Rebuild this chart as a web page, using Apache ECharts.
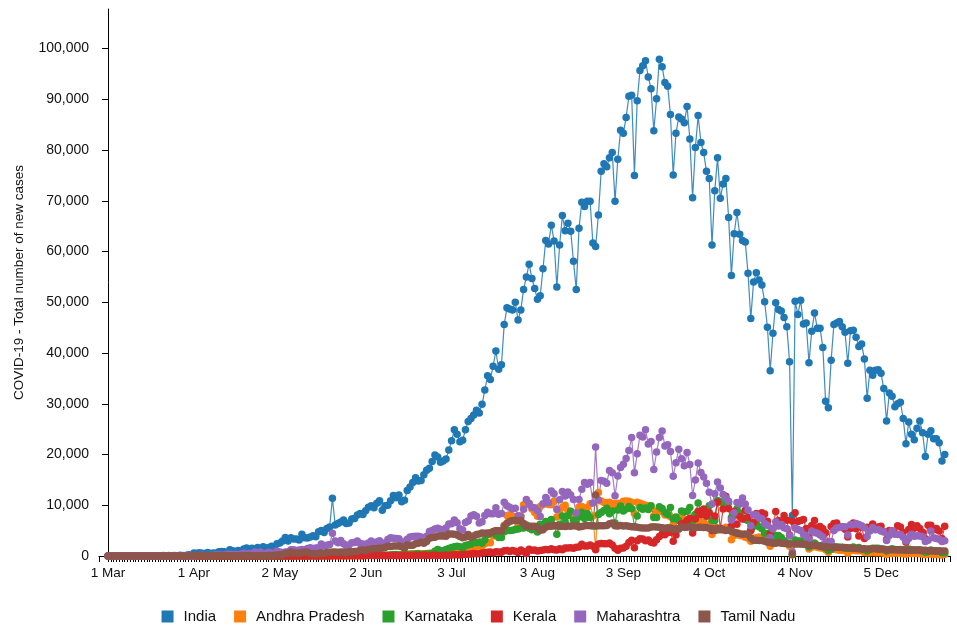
<!DOCTYPE html>
<html>
<head>
<meta charset="utf-8">
<title>COVID-19 new cases</title>
<script src="https://cdn.jsdelivr.net/npm/echarts@6/dist/echarts.min.js"></script>
<style>
  html, body { margin: 0; padding: 0; background: #fff; }
  #chart { width: 957px; height: 633px; }
</style>
</head>
<body>
<div id="chart"></div>
<script>
// daily new cases, 1 Mar 2020 .. 28 Dec 2020 (one row per month)
var india = [
  0,2,1,22,2,1,3,5,9,15,8,10,9,26,11,15,28,14,38,50,86,66,103,37,121,70,160,100,112,227,146,
  601,545,624,524,516,708,484,573,565,813,871,854,758,1243,1031,886,1061,922,1371,1580,1239,1537,1292,1667,1408,1835,1607,1568,1902,1705,
  2396,2564,2952,3656,2971,3602,3344,3339,3175,4311,3592,3562,3726,3991,3808,4794,5049,4628,5400,5720,11400,6100,6400,6700,7100,6400,6500,7300,7400,8100,8400,
  8200,8900,9600,9900,9500,10400,10900,9000,9900,10000,10900,11900,11500,12000,10700,11000,12900,13600,14500,15400,14800,14900,16000,16900,17300,18600,19900,19500,18500,18700,
  19100,20900,22700,24900,24000,22500,22800,24900,26500,27100,27800,28700,28200,29900,32700,35500,34800,37400,40400,36800,37700,45600,48900,48700,48500,50000,46500,48500,52500,55000,57500,
  54700,52700,50600,51300,56600,62200,61500,65200,62100,53000,61300,67100,64100,65600,64000,58100,52500,64600,69700,68900,69900,69900,61700,61000,67200,75800,77300,76700,78500,79500,69900,
  78200,83900,83300,86400,90600,90800,75000,89700,95700,96600,97600,94400,92100,83800,90100,97900,96400,93300,92600,87000,75100,83300,86500,86100,85400,88600,82200,70600,80500,86800,
  81500,79500,75800,74400,61300,72000,78500,70500,73300,74400,66700,55300,63500,67700,63400,62200,61900,55700,46800,54000,55800,54400,53400,50100,45100,36500,43900,49900,48600,48300,47000,
  45200,38300,8000,50200,47600,50400,45700,45900,38100,44300,47900,44900,44900,41100,30500,29200,38600,45600,45900,46200,45200,44100,38000,44400,44500,43100,41300,41800,38800,31100,
  36600,35600,36600,36700,36000,33000,26600,32100,31500,29400,30000,30300,27100,22100,26400,24000,22900,25200,26600,24300,19600,24000,24700,23100,23100,22300,18700,20000
];

var andhraPradesh = [
  0,0,0,0,0,0,0,0,0,0,0,1,0,0,0,0,0,0,1,1,1,2,1,1,2,1,3,6,2,17,43,
  67,21,31,26,60,37,24,19,14,15,18,27,19,44,48,30,38,44,44,75,35,56,80,62,61,81,82,73,80,71,
  60,58,67,67,60,56,56,43,54,43,33,38,36,48,57,52,25,42,52,62,45,62,47,66,44,48,54,68,33,98,70,
  105,115,180,141,161,147,199,154,216,136,147,186,222,294,193,351,299,425,376,439,477,443,462,497,553,605,796,813,793,704,
  657,845,837,765,998,1322,1178,1062,1555,1608,1813,1933,1935,1916,2432,2593,2602,3963,5041,4074,4944,6045,7998,8147,7813,7627,6051,7948,10093,10167,10376,
  9276,8555,7822,9747,10128,10328,10171,10080,10820,7665,9024,9597,9996,8943,8732,8012,6780,9652,9742,9393,9544,10276,7895,1500,12500,10830,10526,10548,10603,10004,10368,
  10392,10199,10776,10825,10794,10601,8368,10601,10418,10175,9999,9901,9536,7956,8846,8835,8702,8096,8218,7738,6235,7553,7228,7855,7293,7073,6923,5487,6133,6190,
  6751,6555,6242,5795,4256,5795,5120,5292,5145,5653,5210,3224,4038,4622,4038,3967,3676,3503,2918,3503,3620,3765,3342,3342,2997,1901,2901,3503,2886,2905,2849,
  2618,1916,200,3048,2849,2410,2410,2237,1392,1732,1886,1728,1593,1593,1237,753,1395,1316,1221,1121,1121,1121,545,1085,1121,1031,1031,1031,684,620,
  663,685,643,618,625,523,316,550,478,588,522,479,466,321,491,484,477,470,468,382,248,402,386,302,276,270,174,338
];

var karnataka = [
  0,0,0,0,0,0,0,1,3,0,0,2,0,1,1,1,3,1,2,2,6,6,7,7,10,14,9,16,8,16,13,
  9,14,6,16,12,12,12,6,16,26,8,15,15,11,19,36,44,12,25,18,10,12,9,29,15,13,8,9,12,24,
  11,12,14,20,19,20,12,48,41,53,15,24,26,28,44,54,55,84,99,116,143,138,216,130,93,100,135,115,248,141,299,
  187,388,267,257,515,239,308,161,120,161,204,271,308,176,213,204,317,210,337,416,453,249,322,397,442,445,918,1267,1105,947,
  1272,1502,1694,1839,1925,1843,1498,2062,2228,2313,2798,2627,2738,2496,3176,4169,4537,4537,4120,3648,3649,4764,5030,5007,5072,5199,5324,5536,5503,6128,5483,
  5172,5532,4752,6259,5619,6805,6670,7178,5985,4267,6257,7883,6706,7908,8818,7040,6317,7665,8642,7385,8324,7571,5938,5851,8161,8580,8960,9386,8324,8852,6495,
  9058,9860,8865,9280,9746,9319,5773,7866,9540,9217,9464,9140,9894,7576,7576,9725,9366,8626,8191,9543,7339,7710,6997,8865,8655,8811,9543,6892,8244,10453,
  8856,8793,8191,9886,7051,6974,10947,10704,10517,10913,10517,7606,8191,9265,8477,7542,7184,7012,5018,5872,6297,5778,5356,4471,4439,3130,3146,4025,4025,3652,3014,
  2576,2362,300,3156,2960,2960,2584,2575,1759,2362,2584,2116,1946,2154,1565,1157,1336,1849,1781,1704,1704,1509,1509,1509,1791,1522,1664,1322,1291,998,
  1330,1506,1522,1506,1394,1330,998,1273,1439,1291,1247,1276,1241,1196,1385,1240,1196,1130,1236,1005,749,902,1194,1005,1005,1005,653,662
];

var kerala = [
  0,0,0,0,0,0,0,5,1,8,3,2,2,3,4,3,1,2,1,12,12,15,28,14,9,19,39,6,20,32,7,
  24,21,9,11,8,13,9,12,7,7,10,2,3,8,1,7,1,4,2,6,19,11,10,3,7,11,13,10,10,2,
  0,0,0,0,0,0,1,1,2,7,7,5,10,26,16,11,14,29,12,24,42,53,62,53,49,67,40,84,62,58,61,
  57,86,82,94,111,108,107,91,91,65,83,78,85,54,82,79,75,97,118,127,133,138,141,152,123,150,195,118,121,131,
  151,160,211,240,225,193,272,301,339,416,488,435,449,608,623,722,791,593,821,794,720,1038,1078,885,1103,927,702,1167,903,506,1310,
  1129,1169,962,1083,1195,1298,1251,1420,1211,1184,1417,1212,1564,1569,1608,1530,1725,1758,2333,1968,1983,2172,1908,1242,2375,2476,2406,2397,2543,2154,1530,
  1140,1547,1553,1908,2655,3082,1648,3026,3402,3349,2988,3139,2697,2540,3215,3830,4351,4167,4644,4696,2910,4125,5376,6324,6477,7006,7445,4538,7354,8830,
  8135,9258,7834,8553,5042,7871,10606,5445,9250,11755,9347,5930,8764,6244,7789,7283,9016,7631,5022,6591,8369,7482,8511,8253,6843,4287,5457,8790,7020,6638,7983,
  7025,4138,6862,8516,6820,7002,7201,5440,3593,6010,7007,5537,5804,5372,4581,2710,5792,6419,6491,5722,5772,5254,3757,5420,6491,5378,3966,5643,3463,5643,
  5375,6316,5376,5718,5848,4777,3272,5032,4875,4470,5949,5718,4698,2707,5218,6185,5456,5949,5406,4698,3423,6049,6049,5177,5397,4905,3463,5887
];

var maharashtra = [
  0,0,0,0,0,0,0,0,2,3,6,3,3,14,5,8,3,4,7,11,11,12,7,26,4,15,23,28,37,12,57,
  33,81,88,145,113,120,150,117,229,187,210,134,352,350,232,286,288,328,552,466,472,431,778,394,811,440,522,729,597,583,
  1008,790,678,771,841,1233,1216,1089,1165,1278,1230,1495,1602,1495,1576,1606,2347,2033,2127,2250,4500,2940,2608,3041,2436,2091,2190,2598,2682,2940,2487,
  2361,2287,2560,2933,2436,2739,3007,2553,2259,3254,3607,3493,3427,3390,2786,2701,3307,3752,3827,3874,3870,3721,3214,3890,4841,5024,5318,5493,5257,4878,
  5537,6328,6364,7074,6555,5368,5134,6603,6875,7862,8139,7827,6497,6741,7975,8641,8308,8348,9518,8240,8369,10576,9895,9615,9251,9431,7924,7717,9211,11147,10320,
  9601,9509,8968,7760,10309,11514,10483,12822,12248,9181,11088,12712,11813,12608,12020,11111,8493,11119,13165,14492,14161,14492,10441,21500,11015,14888,14718,14361,16867,16408,11852,
  15765,17433,18105,19218,20800,23350,16429,20131,23816,23446,24886,22084,22543,17066,20482,23365,24619,21656,21907,20598,15738,18390,21029,19164,17794,20419,18056,11921,14976,18317,
  16476,15591,14348,12548,10244,12258,14578,13395,12134,11416,10792,7089,8522,10552,10226,11447,10259,9060,5984,8151,8142,7539,7347,6417,6059,3645,5363,6738,5902,6190,5548,
  5369,4009,800,5505,5246,5027,4237,3959,3277,4907,4608,4496,4132,3753,2544,2535,2840,5011,5535,5640,5760,5753,4153,6159,6159,6406,6185,5965,5544,3837,
  4930,5600,5182,5229,4922,4757,3075,4026,4981,4268,4259,4259,3717,2949,3442,4304,3880,3994,3940,3811,2834,3106,4913,3580,3431,3314,2854,3018
];

var tamilNadu = [
  0,0,0,0,0,0,1,0,0,0,0,0,0,0,0,0,0,1,0,1,1,3,6,3,8,6,9,2,8,17,57,
  110,75,102,74,86,50,69,48,96,77,58,106,98,31,38,25,56,49,105,76,76,33,54,72,66,64,52,121,104,161,
  203,231,266,527,508,771,580,600,526,669,798,716,509,447,434,477,639,536,688,743,776,786,759,765,805,646,817,827,874,938,1149,
  1162,1091,1286,1384,1438,1458,1515,1562,1685,1927,1875,1982,1989,1974,1843,1515,2174,2141,2115,2396,2532,2710,2516,2865,3509,3645,3713,3940,3949,3943,
  3882,4343,4329,4280,4150,3827,3616,3756,4231,3680,3965,4244,4328,4526,4496,4549,4538,4807,4979,4985,4965,5849,6472,6785,6988,6986,6993,6972,6426,5864,5881,
  5879,5875,5609,5063,5175,5684,5880,5883,5994,5914,5834,5871,5835,5890,5860,5950,5890,5709,5795,5986,5995,5980,5975,12000,5951,5958,5981,5996,6352,6495,5956,
  5928,5990,5892,5976,5870,5783,5776,5684,5584,5528,5495,5519,5693,5752,5697,5652,5560,5488,5569,5516,5344,5337,5325,5692,5679,5647,5791,5589,5546,5659,
  5688,5622,5595,5489,5395,5017,5447,5185,5242,5015,5117,4879,4666,4462,4389,4295,4359,4289,3536,3094,3086,3077,3057,2886,2708,2708,2522,2516,2652,2511,2481,
  2396,2345,400,2370,2349,2341,2335,2257,2078,2142,2112,2089,1939,1819,1819,1725,1707,1652,1714,1655,1663,1655,1624,1557,1534,1464,1442,1430,1410,1391,
  1404,1428,1416,1347,1366,1312,1195,1220,1234,1220,1236,1197,1195,1122,1132,1134,1164,1164,1152,1127,1129,1029,1045,1009,1019,1010,1005,1005
];

var seriesNames = ['India', 'Andhra Pradesh', 'Karnataka', 'Kerala', 'Maharashtra', 'Tamil Nadu'];
var seriesColors = ['#1f77b4', '#ff7f0e', '#2ca02c', '#d62728', '#9467bd', '#8c564b'];

// x tick labels, placed every 31 days from 1 Mar
var tickDays = [0, 31, 62, 93, 124, 155, 186, 217, 248, 279];
var tickLabels = ['1 Mar', '1 Apr', '2 May', '2 Jun', '3 Jul', '3 Aug', '3 Sep', '4 Oct', '4 Nov', '5 Dec'];

var xMin = -3.25, xMax = 303.9;

var ChartController = function(){
    var that = this;

    this.init = function(){
        var dom = document.getElementById('chart');
        var myChart = echarts.init(dom, null, {renderer: 'canvas'});

        var allData = [india, andhraPradesh, karnataka, kerala, maharashtra, tamilNadu];
        var dayTicks = [xMin];
        for (var d = 0; d < india.length; d++) dayTicks.push(d);
        dayTicks.push(xMax);

        var series = [];
        for (var s = 0; s < allData.length; s++) {
            series.push({
                name: seriesNames[s],
                type: 'line',
                data: allData[s].map(function(v, i){ return [i, v]; }),
                symbol: 'circle',
                symbolSize: 7.5,
                showAllSymbol: true,
                itemStyle: { color: seriesColors[s] },
                lineStyle: { width: 1.2, color: seriesColors[s], opacity: 0.85 },
                emphasis: { disabled: true }
            });
        }

        var option = {
            animation: false,
            color: seriesColors,
            textStyle: { fontFamily: 'Liberation Sans, Arial, sans-serif', color: '#111' },
            grid: { left: 99, right: 7, top: 9, bottom: 77, containLabel: false, outerBoundsMode: 'none' },
            legend: {
                data: seriesNames,
                top: 604,
                left: 'center',
                icon: 'rect',
                itemWidth: 12,
                itemHeight: 12,
                itemGap: 18,
                textStyle: { fontSize: 15, color: '#111', padding: [0, 0, 0, 5] },
                selectedMode: false
            },
            xAxis: {
                type: 'value',
                min: xMin,
                max: xMax,
                splitLine: { show: false },
                axisLine: { show: true, onZero: false, lineStyle: { color: '#000', width: 1 } },
                axisTick: { show: true, length: 6, lineStyle: { color: '#000', width: 1 }, customValues: dayTicks },
                axisLabel: {
                    customValues: tickDays,
                    fontSize: 13.5,
                    color: '#111',
                    margin: 10,
                    formatter: function(v){
                        var k = tickDays.indexOf(Math.round(v));
                        return k >= 0 ? tickLabels[k] : '';
                    }
                }
            },
            yAxis: {
                type: 'value',
                min: 0,
                max: 107800,
                interval: 10000,
                name: 'COVID-19 - Total number of new cases',
                nameLocation: 'middle',
                nameRotate: 90,
                nameGap: 73,
                nameTextStyle: { fontSize: 13.5, color: '#111' },
                splitLine: { show: false },
                axisLine: { show: true, lineStyle: { color: '#000', width: 1 } },
                axisTick: { show: true, length: 6, lineStyle: { color: '#000', width: 1 } },
                axisLabel: {
                    fontSize: 14,
                    color: '#111',
                    margin: 10,
                    showMaxLabel: false,
                    formatter: function(v){
                        if (v % 10000 !== 0) return '';
                        return v.toLocaleString('en-US');
                    }
                }
            },
            series: series
        };
        myChart.setOption(option, true);
    };
};

var controller = new ChartController();
controller.init();
</script>
</body>
</html>
